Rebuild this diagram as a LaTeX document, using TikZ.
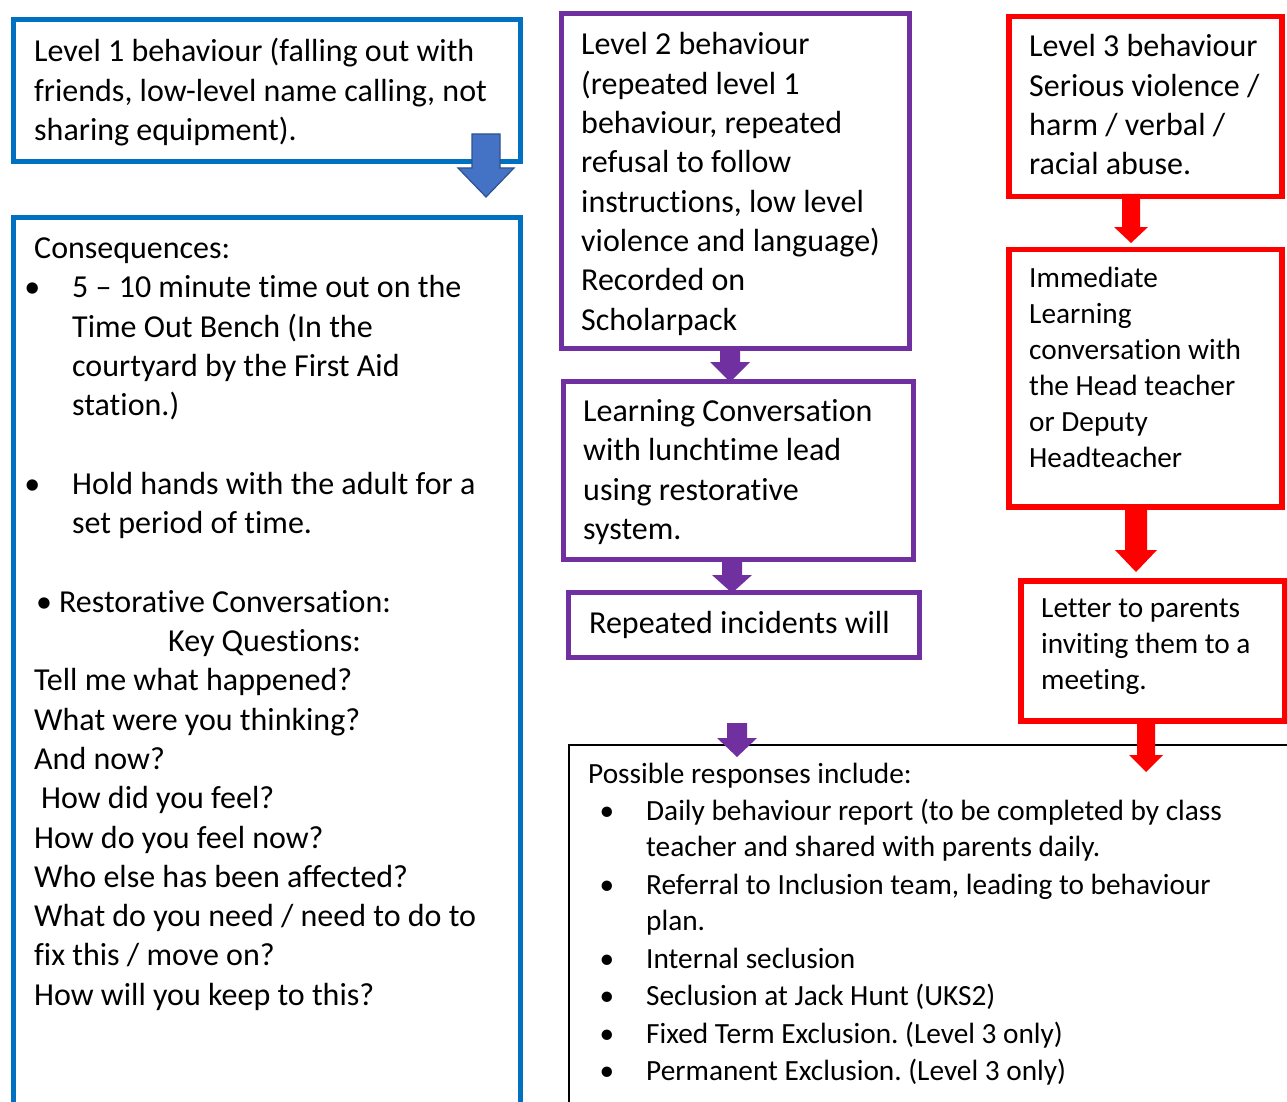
\documentclass[tikz,border=0pt]{standalone}
\usepackage{fontspec}
\setmainfont[Ligatures=CommonOff]{Carlito}
\definecolor{bluebox}{HTML}{0070C0}
\definecolor{purplebox}{HTML}{7030A0}
\definecolor{redbox}{HTML}{FF0000}
\definecolor{arrowblue}{HTML}{4472C4}
\definecolor{arrowblueline}{HTML}{2F528F}
\newcommand\bigtxt{\fontsize{32}{39.3}\selectfont\frenchspacing}
\newcommand\smalltxt{\fontsize{29.3}{36}\selectfont\frenchspacing}
\newcommand\wordspace{\spaceskip=0.226em\relax\xspaceskip=0.226em\relax}
% block arrow: #1 style, #2 centre x, #3 top y, #4 tip y, #5 shaft half width, #6 head half width, #7 head length
\newcommand\barrow[7]{%
  \filldraw[#1] (#2-#5,#3) -- (#2+#5,#3) -- (#2+#5,#4-#7) -- (#2+#6,#4-#7) -- (#2,#4)
    -- (#2-#6,#4-#7) -- (#2-#5,#4-#7) -- cycle;}
\newcommand\bul[1]{\hspace*{#1}\llap{\textbullet\hspace{32pt}}}
\begin{document}
\begin{tikzpicture}[x=1pt,y=-1pt,
  framebox/.style={draw, anchor=north west, inner sep=0pt, fill=none},
  bluefr/.style={framebox, draw=bluebox, line width=5pt},
  purplefr/.style={framebox, draw=purplebox, line width=5pt},
  redfr/.style={framebox, draw=redbox, line width=5.5pt},
  blackfr/.style={framebox, draw=black, line width=1.8pt},
  bigtext/.style={anchor=base west, inner sep=0pt, text width=700pt, align=left, font=\bigtxt, execute at begin node=\wordspace},
  smalltext/.style={anchor=base west, inner sep=0pt, text width=700pt, align=left, font=\smalltxt, execute at begin node=\wordspace},
  blueArrow/.style={fill=arrowblue, draw=arrowblueline, line width=1.2pt},
  purpleArrow/.style={fill=purplebox, draw=none},
  redArrow/.style={fill=redbox, draw=none}]
\useasboundingbox (0,0) rectangle (1287,1102);
\clip (0,0) rectangle (1287,1102);
\fill[white] (0,0) rectangle (1287,1102);

% frames
\node[bluefr, minimum width=507pt, minimum height=142pt] (l1box) at (10.5,17.5) {};
\node[bluefr, minimum width=507pt, minimum height=900pt] (consbox) at (10.5,215) {};
\node[purplefr, minimum width=348pt, minimum height=334.5pt] (l2box) at (558.5,11.5) {};
\node[purplefr, minimum width=350pt, minimum height=178.5pt] (lcbox) at (561,378.5) {};
\node[purplefr, minimum width=351pt, minimum height=65pt] (repbox) at (566,590) {};
\node[blackfr, minimum width=730pt, minimum height=400pt] (respbox) at (568,744) {};
\node[redfr, minimum width=273pt, minimum height=180pt] (l3box) at (1006,14) {};
\node[redfr, minimum width=273pt, minimum height=257.5pt] (immbox) at (1006,246.5) {};
\node[redfr, minimum width=264pt, minimum height=140pt] (letbox) at (1018,578) {};

% texts
\node[bigtext] (l1txt) at (34,62) {Level 1 behaviour (falling out with\\ friends, low-level name calling, not\\ sharing equipment).};

\node[bigtext] (constxt) at (34,258.5) {Consequences:\\
\bul{38pt}5 – 10 minute time out on the\\
\hspace*{38pt}Time Out Bench (In the\\
\hspace*{38pt}courtyard by the First Aid\\
\hspace*{38pt}station.)\\
\mbox{}\\
\bul{38pt}Hold hands with the adult for a\\
\hspace*{38pt}set period of time.\\
\mbox{}\\
\hspace*{2pt}\textbullet\hspace{7pt}Restorative Conversation:\\
\hspace*{134pt}Key Questions:\\
Tell me what happened?\\
What were you thinking?\\
And now?\\
\hspace*{7pt}How did you feel?\\
How do you feel now?\\
Who else has been affected?\\
What do you need / need to do to\\
fix this / move on?\\
How will you keep to this?};

\node[bigtext] (l2txt) at (581,55) {Level 2 behaviour\\ (repeated level 1\\ behaviour, repeated\\ refusal to follow\\ instructions, low level\\ violence and language)\\ Recorded on\\ Scholarpack};

\node[bigtext] (lctxt) at (583,421.5) {Learning Conversation\\ with lunchtime lead\\ using restorative\\ system.};

\node[bigtext] (reptxt) at (589,633) {Repeated incidents will};

\node[bigtext] (l3txt) at (1029,57) {Level 3 behaviour\\ Serious violence /\\ harm / verbal /\\ racial abuse.};

\node[smalltext] (immtxt) at (1029,287) {Immediate\\ Learning\\ conversation with\\ the Head teacher\\ or Deputy\\ Headteacher};

\node[smalltext] (lettxt) at (1041,617.5) {Letter to parents\\ inviting them to a\\ meeting.};

\node[smalltext] (resptxt) at (588,783.5) {Possible responses include:\\[1pt]
\bul{58pt}Daily behaviour report (to be completed by class\\
\hspace*{58pt}teacher and shared with parents daily.\\[2pt]
\bul{58pt}Referral to Inclusion team, leading to behaviour\\
\hspace*{58pt}plan.\\[2pt]
\bul{58pt}Internal seclusion\\[1pt]
\bul{58pt}Seclusion at Jack Hunt (UKS2)\\[2pt]
\bul{58pt}Fixed Term Exclusion. (Level 3 only)\\[1pt]
\bul{58pt}Permanent Exclusion. (Level 3 only)};

% block arrows between the boxes
\barrow{blueArrow}{486}{134}{197}{14}{28}{29}
\barrow{purpleArrow}{730}{346}{382}{10}{20}{20}
\barrow{purpleArrow}{732}{557}{593}{10}{20}{18}
\barrow{purpleArrow}{737}{723}{757}{10}{20}{19}
\barrow{redArrow}{1131}{194}{243}{9}{17}{16}
\barrow{redArrow}{1136}{504}{572}{11}{21}{22}
\barrow{redArrow}{1146}{718}{772}{9}{17}{17}
\end{tikzpicture}
\end{document}
